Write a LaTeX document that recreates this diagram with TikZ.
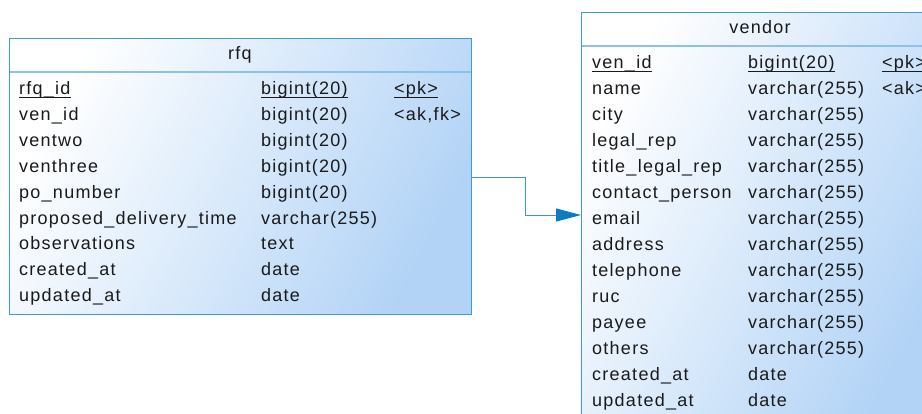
\documentclass[tikz,border=0pt]{standalone}
\usepackage{fontspec}
\setmainfont{Liberation Sans}[LetterSpace=7]
\usetikzlibrary{arrows.meta}

\definecolor{edgeblue}{HTML}{3F9BD7}
\definecolor{sepblue}{HTML}{8CC2EA}
\definecolor{fillblue}{HTML}{B2D3F6}
\definecolor{linkblue}{HTML}{3A96D3}
\definecolor{tipblue}{HTML}{0B7CC2}
\definecolor{ink}{HTML}{1A1A1A}

\tikzset{
  tablebox/.style={draw=edgeblue, line width=1pt, left color=white,
    right color=fillblue, shading angle=62, anchor=north west, inner sep=0pt},
  cell/.style={anchor=base west, inner sep=0pt, text=ink,
    font=\fontsize{18}{20}\selectfont},
  title/.style={anchor=base, inner sep=0pt, text=ink,
    font=\fontsize{18}{20}\selectfont},
  sepline/.style={draw=sepblue, line width=1.6pt},
  ulline/.style={draw=ink, line width=0.9pt},
  link/.style={draw=linkblue, line width=1pt,
    -{Triangle[length=25pt,width=13pt,fill=tipblue,color=tipblue]}},
}

\begin{document}
\begin{tikzpicture}[x=1pt, y=-1pt]
  \useasboundingbox (0,0) rectangle (922,413);
  \clip (0,0) rectangle (922,413);

  % ---------- table rfq ----------
  \node[tablebox, minimum width=462pt, minimum height=276pt] (rfq) at (9,38) {};
  \draw[sepline] (9.5,72) -- (470.5,72);
  \node[title] (rfqtitle) at (240,59) {rfq};

  \node[cell] (rfqn0) at (19,94.5) {rfq\_id};
  \node[cell] (rfqt0) at (261,94.5) {bigint(20)};
  \node[cell] (rfqk0) at (394,94.5) {<pk>};
  \foreach \nd in {rfqn0,rfqt0,rfqk0}
    \draw[ulline] ([yshift=-3.4pt]\nd.base west) -- ([yshift=-3.4pt]\nd.base east);

  \foreach \n/\t [count=\i from 1] in {ven\_id/bigint(20), ventwo/bigint(20),
      venthree/bigint(20), po\_number/bigint(20),
      proposed\_delivery\_time/varchar(255), observations/text,
      created\_at/date, updated\_at/date} {
    \node[cell] (rfqn\i) at (19,{94.5+25.9*\i}) {\n};
    \node[cell] (rfqt\i) at (261,{94.5+25.9*\i}) {\t};
  }
  \node[cell] (rfqk1) at (394,120.4) {<ak,fk>};

  % ---------- table vendor ----------
  \node[tablebox, minimum width=360pt, minimum height=412pt] (vendor) at (581,12) {};
  \draw[sepline] (581.5,46) -- (922,46);
  \node[title] (vendortitle) at (760,33) {vendor};

  \node[cell] (venn0) at (592,68.5) {ven\_id};
  \node[cell] (vent0) at (748,68.5) {bigint(20)};
  \node[cell] (venk0) at (882,68.5) {<pk>};
  \foreach \nd in {venn0,vent0,venk0}
    \draw[ulline] ([yshift=-3.4pt]\nd.base west) -- ([yshift=-3.4pt]\nd.base east);

  \foreach \n/\t [count=\i from 1] in {name/varchar(255), city/varchar(255),
      legal\_rep/varchar(255), title\_legal\_rep/varchar(255),
      contact\_person/varchar(255), email/varchar(255), address/varchar(255),
      telephone/varchar(255), ruc/varchar(255), payee/varchar(255),
      others/varchar(255), created\_at/date, updated\_at/date} {
    \node[cell] (venn\i) at (592,{68.5+26*\i}) {\n};
    \node[cell] (vent\i) at (748,{68.5+26*\i}) {\t};
  }
  \node[cell] (venk1) at (882,94.5) {<ak>};

  % ---------- reference rfq -> vendor ----------
  \coordinate (bendA) at (525,177);
  \coordinate (bendB) at (525,215);
  \draw[link] (bendA -| rfq.east) -- (bendA) -- (bendB) -- (bendB -| vendor.west);
\end{tikzpicture}
\end{document}
